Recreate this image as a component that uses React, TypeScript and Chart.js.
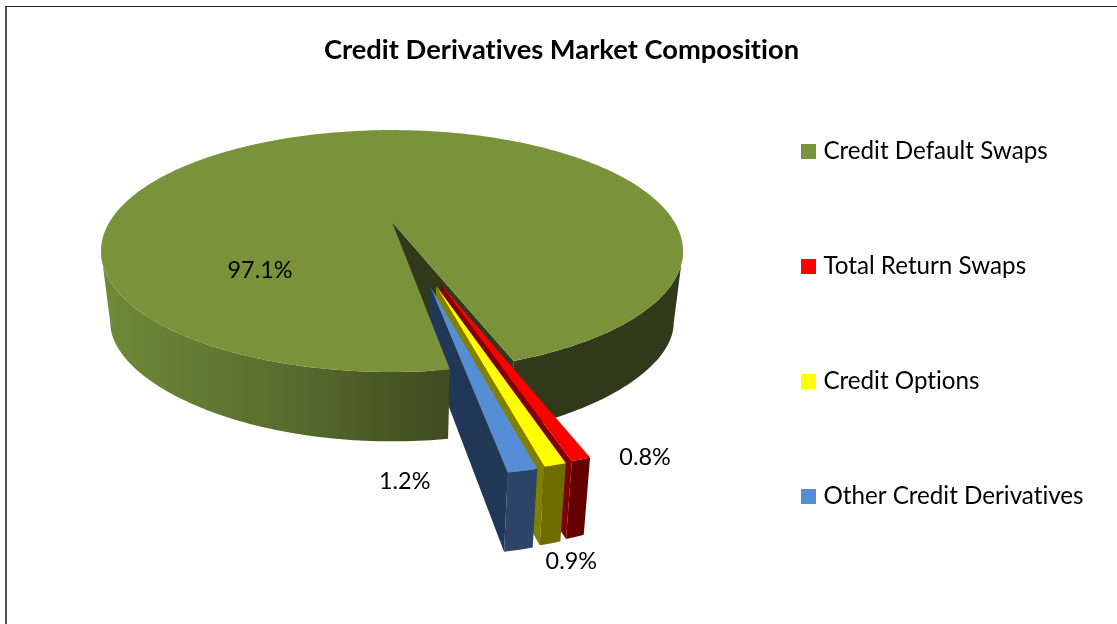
import React, { useEffect, useRef } from "react";
import { Chart, registerables } from "chart.js";

Chart.register(...registerables);

const categories = ["Credit Default Swaps", "Total Return Swaps", "Credit Options", "Other Credit Derivatives"];
const shares = [97.1, 0.8, 0.9, 1.2];
const topColors = ["#7a923a", "#ff0000", "#ffff00", "#558ed5"];
const sideColors = ["#30391a", "#7f0000", "#7f7f00", "#213757"];
const rimColors = ["#30391a", "#660000", "#6f6c00", "#2c4468"];

// Pulled-out slices, in units of the pie radius.
const explode = [0, 0.51, 0.51, 0.51];
const sliceRadius = [1, 0.95, 0.95, 0.95];
const sideNudge = [0, -0.005, 0.006, 0.021];
// Where each percentage sits relative to its slice anchor, in pixels.
const labelShift = [
  [-132, 48],
  [64, -2],
  [16, 96],
  [-118, 11],
];

const FONT = "Lato, Carlito, sans-serif";

// Tilted-disc camera used to lay the pie on the page.
const view = { cx: 392, cy: 222, rx: 282.5, rz: 114, persp: 0.24, depth: 67.4, bow: 21.6, hub: 0.7, taper: 0.032 };

type Pt = [number, number];

function project(X: number, Z: number, d: number): Pt {
  const w = 1 - view.persp * Z;
  const drop = view.depth + view.bow * (Z - view.hub) * (Z - view.hub);
  return [
    view.cx + (view.rx * X * (1 - view.taper * d)) / w,
    view.cy + (view.rz * Z) / w + d * drop,
  ];
}

function trace(ctx: CanvasRenderingContext2D, pts: Pt[]) {
  ctx.beginPath();
  pts.forEach((p, i) => (i ? ctx.lineTo(p[0], p[1]) : ctx.moveTo(p[0], p[1])));
  ctx.closePath();
}

function arcPts(ox: number, oz: number, r: number, a0: number, a1: number, d: number): Pt[] {
  const n = Math.max(4, Math.ceil(Math.abs(a1 - a0) * 60));
  const out: Pt[] = [];
  for (let i = 0; i <= n; i++) {
    const a = a0 + ((a1 - a0) * i) / n;
    out.push(project(ox + r * Math.cos(a), oz + r * Math.sin(a), d));
  }
  return out;
}

const pie3d = {
  id: "pie3d",
  beforeDatasetDraw(chart: any) {
    const ctx: CanvasRenderingContext2D = chart.ctx;
    const arcs = chart.getDatasetMeta(0).data;
    const geo = arcs.map((el: any, i: number) => {
      const { startAngle, endAngle } = el.getProps(["startAngle", "endAngle"], true);
      const mid = (startAngle + endAngle) / 2;
      return {
        a0: startAngle,
        a1: endAngle,
        mid,
        ox: explode[i] * Math.cos(mid) + sideNudge[i],
        oz: explode[i] * Math.sin(mid),
        r: sliceRadius[i],
      };
    });
    const fill = (pts: Pt[], style: any) => {
      trace(ctx, pts);
      ctx.fillStyle = style;
      ctx.fill();
    };
    const wall = (g: any, a0: number, a1: number, style: any) =>
      fill([...arcPts(g.ox, g.oz, g.r, a0, a1, 0), ...arcPts(g.ox, g.oz, g.r, a1, a0, 1)], style);

    ctx.save();
    const big = geo[0];
    const end = big.a1 - Math.PI * 2;
    // Silhouette of the disc: the rim is drawn only up to its widest points.
    const tangent = Math.asin(view.persp);

    // Cut face and far-side rim of the main slice sit behind the pulled-out slices.
    const ex = Math.cos(end);
    const ez = Math.sin(end);
    fill([project(0, 0, 0), project(ex, ez, 0), project(ex, ez, 1), project(0, 0, 1)], sideColors[0]);
    wall(big, end, tangent, rimColors[0]);

    // Pulled-out slices: inner face, rim, then top.
    for (let i = 1; i < geo.length; i++) {
      const g = geo[i];
      const ax = g.ox + g.r * Math.cos(g.a1);
      const az = g.oz + g.r * Math.sin(g.a1);
      fill([project(g.ox, g.oz, 0), project(ax, az, 0), project(ax, az, 1), project(g.ox, g.oz, 1)], sideColors[i]);
      wall(g, g.a0, g.a1, rimColors[i]);
      fill([project(g.ox, g.oz, 0), ...arcPts(g.ox, g.oz, g.r, g.a0, g.a1, 0)], topColors[i]);
    }

    // Near rim of the main slice, darkening toward the cut.
    const shade = ctx.createLinearGradient(101, 0, 450, 0);
    shade.addColorStop(0, "#6f8a38");
    shade.addColorStop(0.55, "#566c2d");
    shade.addColorStop(1, "#3f4b1f");
    wall(big, big.a0, Math.PI - tangent, shade);

    fill([project(0, 0, 0), ...arcPts(0, 0, 1, big.a0, big.a1, 0)], topColors[0]);

    // Percentages.
    ctx.fillStyle = "#000";
    ctx.font = `23.4px ${FONT}`;
    ctx.textAlign = "center";
    ctx.textBaseline = "middle";
    geo.forEach((g: any, i: number) => {
      const anchor = i === 0 ? project(0, 0, 0) : project(g.ox + g.r * Math.cos(g.mid), g.oz + g.r * Math.sin(g.mid), 0);
      ctx.fillText(`${shares[i].toFixed(1)}%`, anchor[0] + labelShift[i][0], anchor[1] + labelShift[i][1]);
    });
    ctx.restore();
    return false;
  },
};

const frame = {
  id: "frame",
  beforeDraw(chart: any) {
    const ctx: CanvasRenderingContext2D = chart.ctx;
    (ctx as any).textRendering = "optimizeSpeed";
    ctx.save();
    ctx.fillStyle = "#fff";
    ctx.fillRect(0, 0, chart.width, chart.height);
    ctx.fillStyle = "#555";
    ctx.fillRect(5, 6, 2, chart.height - 6);
    ctx.fillStyle = "#222";
    ctx.fillRect(5, 6, chart.width - 5, 1);
    ctx.restore();
  },
};

function swatch(color: string) {
  const c = document.createElement("canvas");
  c.width = 15;
  c.height = 15;
  const g = c.getContext("2d")!;
  g.fillStyle = color;
  g.fillRect(0, 0, 15, 15);
  return c;
}

export default function App() {
  const ref = useRef<HTMLCanvasElement>(null);
  useEffect(() => {
    document.body.style.margin = "0";
    const chart = new Chart(ref.current!, {
      type: "pie",
      data: {
        labels: categories,
        datasets: [{ data: shares, backgroundColor: topColors, borderWidth: 0 }],
      },
      options: {
        responsive: false,
        animation: false,
        rotation: 171,
        layout: { padding: { top: 23, right: 23, bottom: 0, left: 29 } },
        plugins: {
          tooltip: { enabled: false },
          title: {
            display: true,
            text: "Credit Derivatives Market Composition",
            color: "#000",
            font: { family: FONT, size: 27.3, weight: "bold" },
            padding: { top: 11, bottom: 20 },
          },
          legend: {
            position: "right",
            labels: {
              color: "#000",
              font: { family: FONT, size: 24.2 },
              usePointStyle: true,
              pointStyleWidth: 5,
              padding: 90.8,
              generateLabels(c: any) {
                const base = (Chart as any).overrides.pie.plugins.legend.labels.generateLabels(c);
                return base.map((it: any) => ({ ...it, pointStyle: swatch(it.fillStyle) }));
              },
            },
          },
        },
      } as any,
      plugins: [frame, pie3d],
    });
    return () => chart.destroy();
  }, []);
  return <canvas ref={ref} width={1117} height={624} style={{ display: "block" }} />;
}
